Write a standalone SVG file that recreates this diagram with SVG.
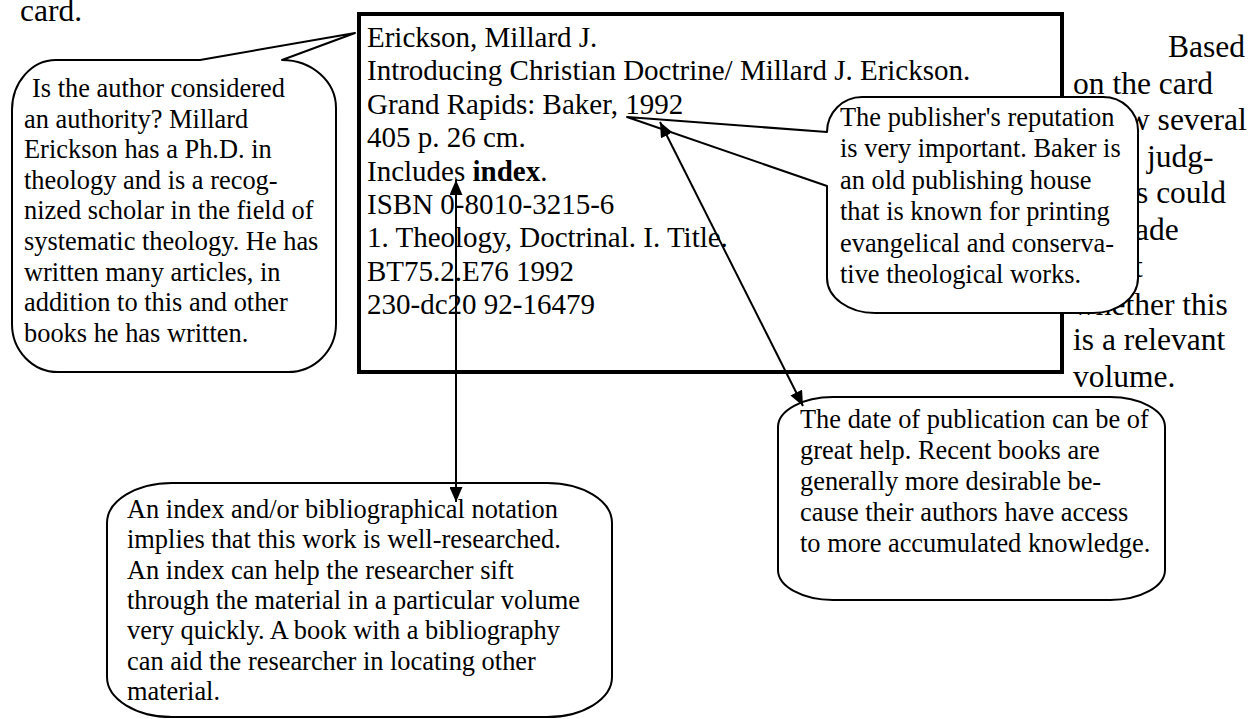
<svg xmlns="http://www.w3.org/2000/svg" width="1251" height="719" viewBox="0 0 1251 719">
<style>
.t{font-family:"Liberation Serif","Times New Roman",serif;fill:#000;white-space:pre}
.card{font-size:29px}
.bub{font-size:26.4px}
.para{font-size:31.5px}
.shape{fill:#fff;stroke:#000;stroke-width:2;stroke-linejoin:round}
.arrow{fill:none;stroke:#000;stroke-width:2;marker-start:url(#ah);marker-end:url(#ah)}
</style>
<defs>
<marker id="ah" markerUnits="userSpaceOnUse" markerWidth="15" markerHeight="13" refX="15" refY="6.5" orient="auto-start-reverse">
<path d="M0,0 L15,6.5 L0,13 z" fill="#000"/>
</marker>
</defs>
<rect width="1251" height="719" fill="#fff"/>

<g id="page-text" class="t para">
<text x="20" y="21">card.</text>
<text x="1168" y="57">Based</text>
<text x="1073" y="93.6">on the card</text>
<text x="1127" y="130.2">w several</text>
<text x="1147" y="166.8">judg-</text>
<text x="1136" y="203.4">s could</text>
<text x="1135" y="240">ade</text>
<text x="1134" y="276.6">t</text>
<text x="1073" y="315">whether this</text>
<text x="1073" y="350">is a relevant</text>
<text x="1073" y="387">volume.</text>
</g>

<g id="card">
<rect x="359" y="14" width="703" height="358" fill="none" stroke="#000" stroke-width="4"/>
<g class="t card">
<text x="367" y="47">Erickson, Millard J.</text>
<text x="367" y="80.4">Introducing Christian Doctrine/ Millard J. Erickson.</text>
<text x="367" y="113.8">Grand Rapids: Baker, 1992</text>
<text x="367" y="147.2">405 p. 26 cm.</text>
<text x="367" y="180.6">Includes <tspan font-weight="bold">index</tspan>.</text>
<text x="367" y="214">ISBN 0-8010-3215-6</text>
<text x="367" y="247.4">1. Theology, Doctrinal. I. Title.</text>
<text x="367" y="280.8">BT75.2.E76 1992</text>
<text x="367" y="314.2">230-dc20 92-16479</text>
</g>
</g>

<g id="author-callout">
<path class="shape" d="M200,60 L355,33 L282,60 A54 48 0 0 1 336,108 L336,324 A48 48 0 0 1 288,372 L58,372 A46 48 0 0 1 12,324 L12,110 A44 50 0 0 1 56,60 Z"/>
<g class="t bub">
<text x="32" y="97">Is the author  considered</text>
<text x="24" y="127.6">an authority? Millard</text>
<text x="24" y="158.2">Erickson has a Ph.D. in</text>
<text x="24" y="188.8">theology and is a recog-</text>
<text x="24" y="219.4">nized scholar in the field of</text>
<text x="24" y="250">systematic theology. He has</text>
<text x="24" y="280.6">written many articles, in</text>
<text x="24" y="311.2">addition to this and other</text>
<text x="24" y="341.8">books he has written.</text>
</g>
</g>

<g id="publisher-callout">
<path class="shape" d="M827,186 L827,278 A48 35 0 0 0 875,313 L1093,313 A45 35 0 0 0 1138,278 L1138,130 A35 33 0 0 0 1103,97 L862,97 A35 35 0 0 0 827,132 L627,117 Z"/>
<g class="t bub">
<text x="840" y="126">The publisher's reputation</text>
<text x="840" y="157.4">is very important. Baker is</text>
<text x="840" y="188.8">an old publishing house</text>
<text x="840" y="220.2">that is known for printing</text>
<text x="840" y="251.6">evangelical and conserva-</text>
<text x="840" y="283">tive theological works.</text>
</g>
</g>

<g id="date-callout">
<path class="shape" d="M833,397 L1110,397 A55 30 0 0 1 1165,427 L1165,570 A55 30 0 0 1 1110,600 L833,600 A55 30 0 0 1 778,570 L778,427 A55 30 0 0 1 833,397 Z"/>
<g class="t bub">
<text x="800" y="428">The date of publication can be of</text>
<text x="800" y="459">great help. Recent books are</text>
<text x="800" y="490">generally more desirable be-</text>
<text x="800" y="521">cause their authors have access</text>
<text x="800" y="552">to more accumulated knowledge.</text>
</g>
</g>

<g id="index-callout">
<path class="shape" d="M172,483 L547,483 A65 40 0 0 1 612,523 L612,677 A65 40 0 0 1 547,717 L172,717 A65 40 0 0 1 107,677 L107,523 A65 40 0 0 1 172,483 Z"/>
<g class="t bub">
<text x="127" y="518">An index and/or bibliographical notation</text>
<text x="127" y="548.3">implies that this work is well-researched.</text>
<text x="127" y="578.6">An index can help the researcher sift</text>
<text x="127" y="608.9">through the material in a particular volume</text>
<text x="127" y="639.2">very quickly. A book with a bibliography</text>
<text x="127" y="669.5">can aid the researcher in locating other</text>
<text x="127" y="699.8">material.</text>
</g>
</g>

<g id="connectors">
<path class="arrow" d="M456,180 L456,502"/>
<path class="arrow" d="M660,122 L803,406"/>
</g>
</svg>
